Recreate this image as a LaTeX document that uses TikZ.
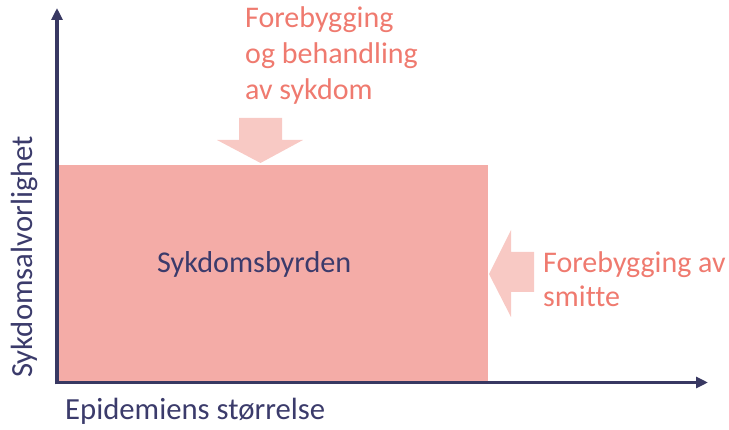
\documentclass[tikz,border=0pt]{standalone}
\usepackage{fontspec}
\setmainfont{Carlito}[RawFeature=-liga]
\usetikzlibrary{arrows.meta}
\definecolor{axisnavy}{HTML}{383862}
\definecolor{textnavy}{HTML}{3B3B6B}
\definecolor{burden}{HTML}{F4ACA7}
\definecolor{pushfill}{HTML}{F8C9C4}
\definecolor{salmon}{HTML}{EF7A6F}
\tikzset{
  axis/.style={draw=axisnavy, line width=3.6pt, -{Triangle[length=12pt,width=11pt]}},
  pusharrow/.style={fill=pushfill, draw=none},
  salmontext/.style={text=salmon, anchor=base west, inner sep=0pt, align=left},
  navytext/.style={text=textnavy, inner sep=0pt},
}
\begin{document}
\begin{tikzpicture}[x=1pt, y=-1pt]
  \useasboundingbox (0,0) rectangle (729,430);

  % the burden of disease
  \fill[burden] (59,165) rectangle (488,381);
  \node[navytext, anchor=base west, font=\fontsize{30.2}{34}\selectfont] (burden) at (157,273) {Sykdomsbyrden};

  % axes
  \coordinate (origin) at (57,382.5);
  \coordinate (ytip) at (57,8);
  \coordinate (xtip) at (708,382.5);
  \draw[axis] ([yshift=-1.8pt]origin) -- (ytip);
  \draw[axis] ([xshift=-1.8pt]origin) -- (xtip);

  % downward push: treatment
  \fill[pusharrow] (239,118) -- (282,118) -- (282,140) -- (303,140)
     -- (260.5,163) -- (217,140) -- (239,140) -- cycle;
  % leftward push: infection prevention
  \fill[pusharrow] (534,252) -- (534,292) -- (511,292) -- (511,317)
     -- (489,274) -- (511,230) -- (511,252) -- cycle;

  % labels (base anchor sits on the last line)
  \node[salmontext, font=\fontsize{30}{36}\selectfont] (treat) at (245,100) {Forebygging\\og behandling\\av sykdom};
  \node[salmontext, font=\fontsize{30}{34}\selectfont] (infect) at (543,307) {Forebygging av\\smitte};
  \node[navytext, anchor=base west, font=\fontsize{30.7}{34}\selectfont] (xlabel) at (65,420) {Epidemiens størrelse};
  \node[navytext, anchor=base west, rotate=90, font=\fontsize{30.7}{34}\selectfont] (ylabel) at (32,378) {Sykdomsalvorlighet};
\end{tikzpicture}
\end{document}
